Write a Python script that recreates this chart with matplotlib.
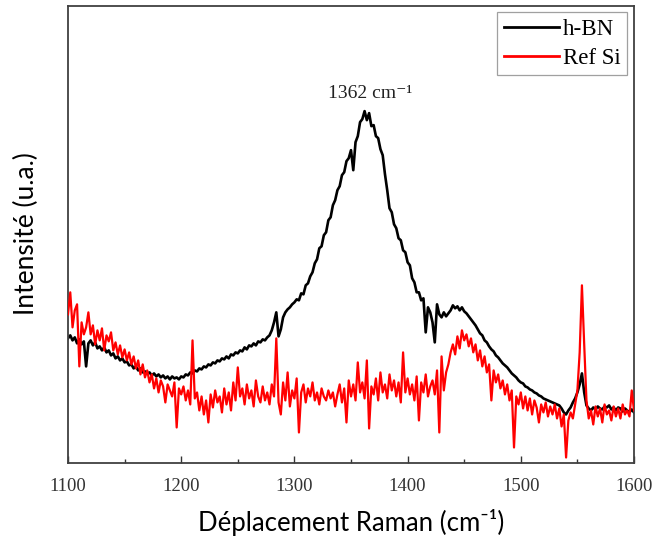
import numpy as np
import matplotlib
matplotlib.use("Agg")
import matplotlib.pyplot as plt
from matplotlib.ticker import MultipleLocator

# Raman shift grid (cm-1), one sample every 2 cm-1
shift = np.arange(1100, 1601, 2)

# h-BN intensity (arbitrary units)
hbn = [
    124, 127, 122, 125, 119, 123, 118, 121, 96, 119,
    122, 117, 120, 114, 116, 112, 115, 110, 112, 107,
    109, 104, 106, 102, 104, 100, 101, 97, 98, 94,
    96, 92, 94, 90, 91, 89, 90, 87, 89, 86,
    88, 85, 87, 84, 86, 83, 86, 84, 85, 83,
    86, 85, 88, 87, 90, 89, 92, 91, 94, 93,
    96, 95, 98, 97, 100, 99, 102, 101, 104, 103,
    106, 104, 108, 107, 110, 109, 112, 111, 115, 113,
    117, 116, 119, 117, 121, 120, 123, 122, 125, 127,
    132, 140, 150, 126, 133, 145, 150, 153, 155, 158,
    160, 163, 162, 169, 168, 177, 179, 186, 190, 199,
    203, 214, 216, 227, 230, 242, 245, 257, 262, 272,
    276, 287, 290, 301, 304, 312, 292, 320, 326, 340,
    343, 351, 342, 349, 336, 337, 326, 324, 313, 307,
    288, 272, 254, 250, 238, 234, 224, 222, 212, 210,
    200, 197, 184, 180, 170, 170, 162, 164, 130, 155,
    150, 140, 120, 158, 148, 145, 150, 146, 149, 152,
    157, 154, 156, 152, 155, 151, 149, 146, 143, 140,
    137, 133, 129, 127, 122, 120, 116, 113, 111, 107,
    105, 102, 99, 97, 95, 92, 89, 87, 85, 82,
    80, 79, 76, 75, 73, 72, 70, 69, 67, 66,
    64, 63, 62, 61, 60, 59, 58, 57, 54, 50,
    48, 52, 55, 60, 64, 70, 78, 89, 70, 57,
    54, 52, 55, 53, 56, 54, 53, 56, 55, 57,
    53, 55, 52, 55, 54, 51, 54, 52, 50, 53,
    50,
]

# Reference Si intensity (arbitrary units)
ref_si = [
    148, 170, 135, 152, 158, 96, 140, 128, 135, 150,
    128, 137, 118, 132, 122, 134, 112, 127, 121, 130,
    112, 120, 108, 117, 105, 113, 102, 110, 98, 106,
    94, 102, 88, 98, 85, 92, 80, 88, 74, 84,
    70, 82, 76, 60, 78, 72, 66, 80, 35, 74,
    68, 76, 62, 72, 58, 122, 64, 70, 52, 66,
    48, 62, 40, 68, 55, 72, 60, 66, 50, 74,
    58, 70, 52, 80, 62, 95, 66, 74, 58, 78,
    64, 72, 56, 82, 66, 60, 76, 62, 70, 58,
    78, 66, 124, 60, 48, 80, 62, 90, 56, 72,
    64, 84, 30, 70, 78, 60, 74, 66, 80, 62,
    70, 58, 74, 66, 62, 72, 64, 70, 56, 68,
    78, 60, 74, 40, 82, 66, 78, 62, 100, 70,
    80, 64, 102, 34, 76, 68, 84, 62, 90, 70,
    78, 64, 88, 72, 82, 66, 80, 60, 110, 70,
    84, 68, 78, 62, 86, 42, 80, 70, 88, 66,
    76, 82, 68, 92, 30, 106, 72, 90, 98, 110,
    118, 108, 126, 114, 132, 122, 128, 116, 124, 110,
    118, 102, 112, 96, 106, 90, 98, 62, 92, 80,
    88, 74, 82, 68, 78, 62, 72, 15, 66, 58,
    70, 54, 66, 52, 64, 48, 62, 55, 40, 58,
    50, 60, 46, 56, 48, 58, 44, 54, 36, 48,
    5, 42, 50, 44, 58, 72, 110, 177, 118, 62,
    44, 52, 38, 56, 46, 54, 40, 58, 48, 52,
    42, 56, 46, 54, 44, 58, 48, 52, 46, 72,
    52,
]

series_names = ["h-BN", "Ref Si"]
peak_label = "1362 cm\u207b\u00b9"
x_label = "Déplacement Raman (cm\u207b\u00b9)"
y_label = "Intensité (u.a.)"
x_ticks = [1100, 1200, 1300, 1400, 1500, 1600]

serif = ["Liberation Serif", "DejaVu Serif"]
sans = ["Lato", "DejaVu Sans"]

fig = plt.figure(figsize=(6.52, 5.40), dpi=100)
ax = fig.add_axes([0.1043, 0.1435, 0.8681, 0.8463])

ax.plot(shift, hbn, color="black", lw=1.9, label=series_names[0], zorder=2)
ax.plot(shift, ref_si, color="#ff0000", lw=1.6, label=series_names[1], zorder=3)

ax.set_xlim(1100, 1600)
ax.set_ylim(0, 456.5)
ax.set_xticks(x_ticks)
ax.xaxis.set_minor_locator(MultipleLocator(50))
ax.set_yticks([])
ax.tick_params(axis="x", which="major", direction="in", length=5, width=1.0,
               colors="#333333", labelsize=13.5, pad=11)
ax.tick_params(axis="x", which="minor", direction="in", length=3, width=1.0, colors="#333333")
for lbl in ax.get_xticklabels():
    lbl.set_fontfamily(serif)
for sp in ax.spines.values():
    sp.set_color("#404040")
    sp.set_linewidth(1.3)

ax.set_xlabel(x_label, fontfamily=sans, fontsize=18.5, color="black", labelpad=10)
ax.set_ylabel(y_label, fontfamily=sans, fontsize=19, color="black", labelpad=21)

ax.text(1367, 369, peak_label, ha="center", va="center",
        fontfamily=serif, fontsize=14, color="#222222")

leg = ax.legend(loc="upper right", prop={"family": serif, "size": 16.5},
                frameon=True, fancybox=False, handlelength=2.4,
                handletextpad=0.2, borderpad=0.28, labelspacing=0.35,
                borderaxespad=0.3)
leg.get_frame().set_edgecolor("#888888")
leg.get_frame().set_linewidth(0.9)
for h in leg.get_lines():
    h.set_linewidth(2.0)

fig.savefig("out.png", dpi=100)
